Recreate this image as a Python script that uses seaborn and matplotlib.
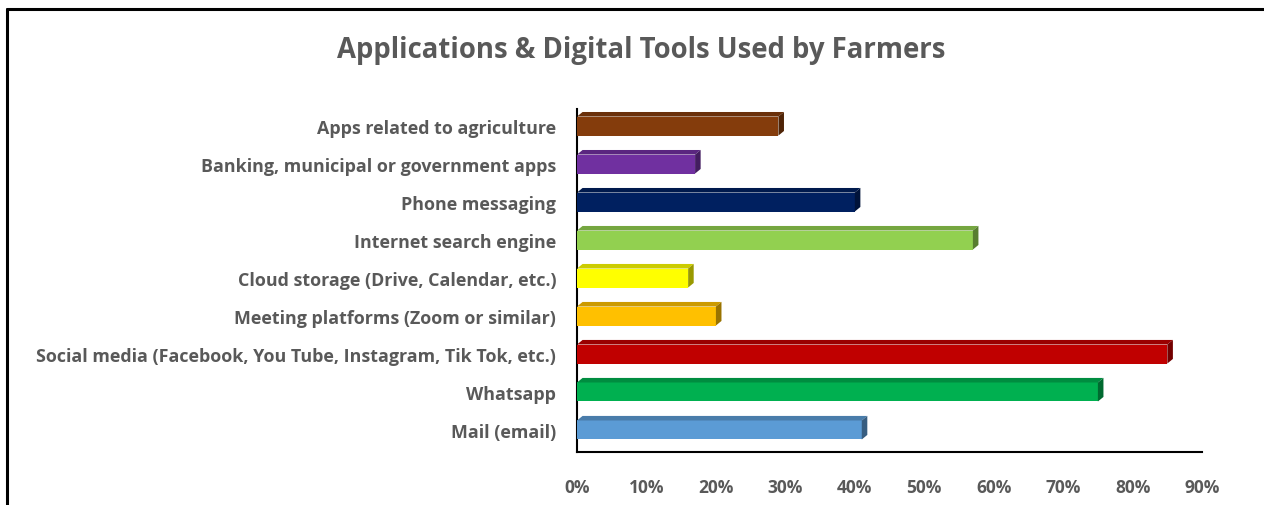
import numpy as np
import pandas as pd
import matplotlib
matplotlib.use("Agg")
import matplotlib.pyplot as plt
from matplotlib.patches import Polygon
from matplotlib.lines import Line2D
from matplotlib.colors import to_rgb
import seaborn as sns

categories = [
    "Apps related to agriculture",
    "Banking, municipal or government apps",
    "Phone messaging",
    "Internet search engine",
    "Cloud storage (Drive, Calendar, etc.)",
    "Meeting platforms (Zoom or similar)",
    "Social media (Facebook, You Tube, Instagram, Tik Tok, etc.)",
    "Whatsapp",
    "Mail (email)",
]
shares = [29, 17, 40, 57, 16, 20, 85, 75, 41]
bar_colors = ["#843C0C", "#7030A0", "#002060", "#92D050", "#FFFF00",
              "#FFC000", "#C00000", "#00B050", "#5B9BD5"]
x_ticks = [0, 10, 20, 30, 40, 50, 60, 70, 80, 90]
title = "Applications & Digital Tools Used by Farmers"

sns.set_theme(style="white")
plt.rcParams["font.family"] = ["Open Sans", "DejaVu Sans"]
text_gray = "#595959"

df = pd.DataFrame({"tool": categories, "share": shares})

fig = plt.figure(figsize=(12.64, 5.06), dpi=100)
ax = fig.add_axes([0.4565, 0.1047, 0.4945, 0.678])

sns.barplot(data=df, x="share", y="tool", hue="tool", palette=bar_colors,
            legend=False, width=0.5, saturation=1, ax=ax, zorder=3,
            linewidth=0, edgecolor="none")

# extruded faces to give each bar a shallow 3-D look
dx, dy = 0.8, 0.12
for patch, col in list(zip(ax.patches, bar_colors)):
    x0, y0 = patch.get_x(), patch.get_y()
    w, h = patch.get_width(), patch.get_height()
    r, g, b = to_rgb(col)
    dark = (r * 0.6, g * 0.6, b * 0.6)
    mid = (r * 0.8, g * 0.8, b * 0.8)
    top = Polygon([(x0, y0), (x0 + dx, y0 - dy), (x0 + w + dx, y0 - dy), (x0 + w, y0)],
                  closed=True, facecolor=mid, edgecolor="none", zorder=3)
    side = Polygon([(x0 + w, y0), (x0 + w + dx, y0 - dy), (x0 + w + dx, y0 + h - dy), (x0 + w, y0 + h)],
                   closed=True, facecolor=dark, edgecolor="none", zorder=3)
    ax.add_patch(top)
    ax.add_patch(side)

ax.set_xlim(0, 90)
ax.set_ylim(8.58, -0.45)
ax.set_xticks(x_ticks)
ax.set_xticklabels([f"{t}%" for t in x_ticks])
ax.set_xlabel("")
ax.set_ylabel("")
ax.tick_params(axis="both", length=0, colors=text_gray)
ax.tick_params(axis="x", pad=19, labelsize=12.5)
ax.tick_params(axis="y", pad=15, labelsize=12.9)
for lbl in ax.get_xticklabels() + ax.get_yticklabels():
    lbl.set_fontweight("bold")
    lbl.set_color(text_gray)

for side_name in ["top", "right"]:
    ax.spines[side_name].set_visible(False)
for side_name in ["left", "bottom"]:
    ax.spines[side_name].set_color("black")
    ax.spines[side_name].set_linewidth(1.5)

fig.text(0.507, 0.9, title, ha="center", va="center", fontsize=19.8,
         fontweight="bold", color=text_gray)

# outer frame along the left and top edges
fig.add_artist(Line2D([0.0055, 0.0055], [0.0, 0.98], transform=fig.transFigure,
                      color="black", linewidth=2.2))
fig.add_artist(Line2D([0.0055, 1.0], [0.98, 0.98], transform=fig.transFigure,
                      color="black", linewidth=2.2))

fig.savefig("out.png", dpi=100)
